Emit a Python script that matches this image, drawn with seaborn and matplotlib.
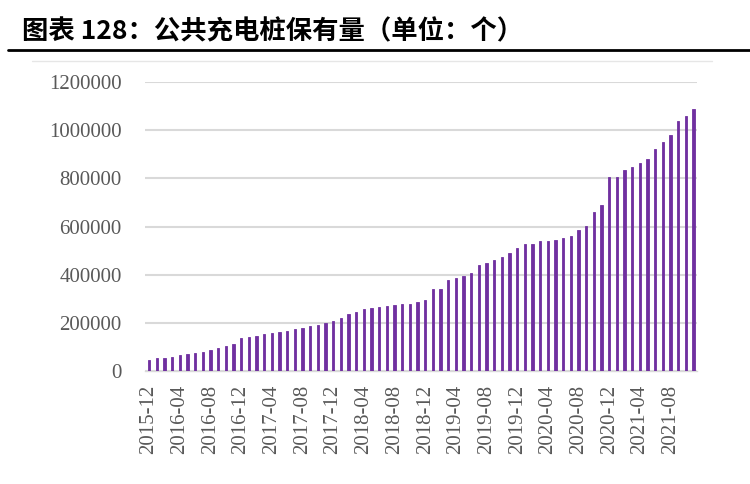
import matplotlib
matplotlib.use("Agg")
import matplotlib.pyplot as plt
import seaborn as sns
import pandas as pd
from matplotlib.lines import Line2D

# monthly public charging piles, 2015-12 .. 2021-11
months = pd.period_range("2015-12", "2021-11", freq="M").strftime("%Y-%m").tolist()
piles = [
    45000, 55000, 55000, 59000, 66000, 70000, 76000, 80000, 87000, 95000,
    104000, 111000, 136000, 142000, 147000, 152000, 157000, 163000, 168000, 175000,
    180000, 187000, 193000, 200000, 208000, 219000, 238000, 246000, 257000, 261000,
    265000, 270000, 274000, 277000, 278000, 286000, 295000, 339000, 342000, 378000,
    386000, 393000, 405000, 441000, 449000, 461000, 473000, 490000, 512000, 526000,
    526000, 539000, 541000, 545000, 553000, 561000, 585000, 602000, 660000, 689000,
    804000, 804000, 833000, 845000, 864000, 880000, 920000, 949000, 979000, 1039000,
    1059000, 1086000,
]
yticks = [0, 200000, 400000, 600000, 800000, 1000000, 1200000]

df = pd.DataFrame({"month": months, "piles": piles})

sns.set_style("white")
plt.rcParams["font.family"] = ["Liberation Serif", "DejaVu Serif"]

fig = plt.figure(figsize=(7.5, 4.84), dpi=100)
ax = fig.add_axes([145.2 / 750, 1 - 371 / 484, (697.4 - 145.2) / 750, (371 - 82) / 484])

sns.barplot(data=df, x="month", y="piles", color="#7030A0", saturation=1,
            width=0.3, edgecolor="#7030A0", linewidth=0.6, ax=ax, zorder=3)

ax.set_ylim(0, 1200000)
ax.set_xlim(-0.5, len(months) - 0.5)
ax.set_yticks(yticks)
ax.set_yticklabels([str(v) for v in yticks], fontsize=15, color="#595959")
ax.set_xticks(range(0, len(months), 4))
ax.set_xticklabels(months[::4], rotation=90, fontsize=15, color="#595959")
ax.set_xticks([i - 0.5 for i in range(0, len(months) + 1, 4)], minor=True)
ax.tick_params(axis="x", which="major", length=0, pad=10)
ax.tick_params(axis="x", which="minor", length=5, color="#d9d9d9", width=1)
ax.tick_params(axis="y", length=0, pad=17)
ax.yaxis.grid(True, color="#d9d9d9", linewidth=1.5, zorder=0)
ax.set_axisbelow(True)
ax.set_xlabel("")
ax.set_ylabel("")
for s in ["top", "right", "left"]:
    ax.spines[s].set_visible(False)
ax.spines["bottom"].set_color("#d9d9d9")
ax.spines["bottom"].set_linewidth(1)

# title and rule
fig.text(22 / 750, 1 - 32 / 484, "图表 128：公共充电桩保有量（单位：个）",
         family=["Noto Sans CJK SC", "DejaVu Sans"], fontweight="bold",
         fontsize=19, va="center", ha="left", color="black")
fig.add_artist(Line2D([8 / 750, 1], [1 - 50 / 484] * 2, color="black", linewidth=2))
# chart area frame (top edge)
fig.add_artist(Line2D([32 / 750, 712 / 750], [1 - 61 / 484] * 2, color="#e6e6e6", linewidth=1))

fig.savefig("out.png", dpi=100)
